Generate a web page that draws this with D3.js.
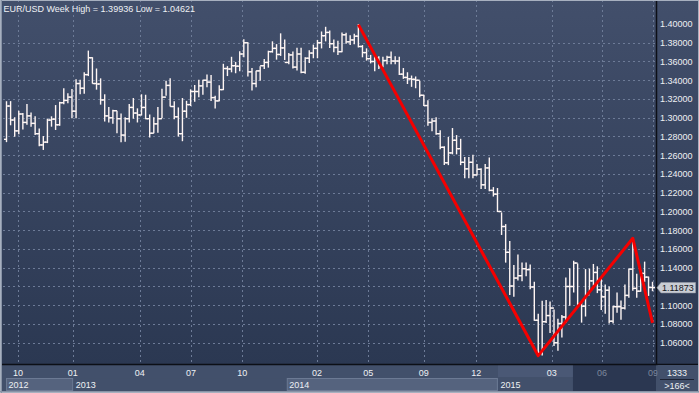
<!DOCTYPE html>
<html><head><meta charset="utf-8">
<script src="https://cdnjs.cloudflare.com/ajax/libs/d3/7.8.5/d3.min.js"></script>
<style>body{margin:0;background:#3a4864;overflow:hidden}svg{display:block}</style>
</head><body><svg id="c" width="699" height="393"></svg>
<script>
// Weekly EUR/USD bars, week 0 = 2012-09-10
const openP = [1.2770,1.3125,1.2976,1.2860,1.3040,1.2950,1.3020,1.2940,1.2830,1.2710,1.2740,1.2975,1.2985,1.2925,1.3160,1.3185,1.3220,1.3070,1.3365,1.3315,
1.3460,1.3640,1.3365,1.3360,1.3190,1.3020,1.3000,1.3075,1.2990,1.2815,1.2990,1.3110,1.3050,1.3030,1.3110,1.2990,1.2835,1.2935,1.2990,1.3220,
1.3345,1.3120,1.3010,1.2830,1.3070,1.3140,1.3280,1.3280,1.3340,1.3400,1.3380,1.3215,1.3180,1.3300,1.3525,1.3520,1.3555,1.3550,1.3680,1.3800,
1.3490,1.3365,1.3500,1.3555,1.3590,1.3705,1.3740,1.3675,1.3745,1.3590,1.3670,1.3540,1.3680,1.3485,1.3635,1.3690,1.3740,1.3800,1.3875,1.3910,
1.3790,1.3750,1.3705,1.3885,1.3810,1.3830,1.3870,1.3760,1.3695,1.3630,1.3600,1.3640,1.3545,1.3610,1.3645,1.3605,1.3605,1.3465,1.3430,1.3415,
1.3410,1.3400,1.3240,1.3130,1.2950,1.2965,1.2830,1.2685,1.2520,1.2625,1.2760,1.2670,1.2525,1.2455,1.2525,1.2390,1.2450,1.2285,1.2465,1.2225,
1.2185,1.2000,1.1840,1.1565,1.1205,1.1290,1.1315,1.1390,1.1380,1.1195,1.0840,1.0495,1.0825,1.0890,1.0970,1.0600,1.0805,1.0875,1.1200,1.1200,
1.1450,1.1015,1.0990,1.1110,1.1260,1.1350,1.1165,1.1090,1.1160,1.0830,1.0985,1.0985,1.0970,1.1105,1.1385,1.1180,1.1150,1.1340,1.1300,1.1190];
const highP = [1.3171,1.3172,1.3000,1.3070,1.3045,1.3140,1.3050,1.3010,1.2880,1.2800,1.2985,1.3010,1.3130,1.3165,1.3308,1.3255,1.3300,1.3405,1.3400,1.3480,
1.3711,1.3640,1.3520,1.3415,1.3245,1.3110,1.3080,1.3070,1.3040,1.3000,1.3140,1.3205,1.3095,1.3245,1.3240,1.3030,1.3000,1.3110,1.3305,1.3390,
1.3415,1.3170,1.3105,1.3205,1.3175,1.3298,1.3345,1.3400,1.3400,1.3455,1.3450,1.3230,1.3340,1.3570,1.3545,1.3645,1.3590,1.3705,1.3832,1.3800,
1.3525,1.3495,1.3545,1.3620,1.3710,1.3810,1.3780,1.3895,1.3830,1.3685,1.3700,1.3740,1.3740,1.3640,1.3715,1.3775,1.3825,1.3915,1.3965,1.3925,
1.3830,1.3815,1.3905,1.3900,1.3875,1.3890,1.39936,1.3770,1.3735,1.3665,1.3670,1.3650,1.3645,1.3655,1.3700,1.3650,1.3645,1.3525,1.3480,1.3445,
1.3435,1.3390,1.3240,1.3180,1.2990,1.3000,1.2860,1.2690,1.2790,1.2885,1.2810,1.2770,1.2575,1.2575,1.2600,1.2500,1.2455,1.2500,1.2570,1.2255,
1.2245,1.1985,1.1860,1.1680,1.1425,1.1535,1.1450,1.1450,1.1430,1.1245,1.0905,1.1043,1.1050,1.1035,1.0950,1.0850,1.0890,1.1290,1.1390,1.1470,
1.1440,1.1030,1.1380,1.1385,1.1435,1.1410,1.1280,1.1215,1.1195,1.0990,1.1130,1.1045,1.1215,1.1385,1.1714,1.1330,1.1370,1.1460,1.1300,1.1245];
const lowP = [1.2745,1.2925,1.2803,1.2830,1.2880,1.2930,1.2910,1.2820,1.2700,1.2662,1.2735,1.2910,1.2875,1.2920,1.3150,1.3160,1.3000,1.3000,1.3255,1.3260,
1.3450,1.3370,1.3305,1.3145,1.2965,1.2955,1.2940,1.2840,1.2745,1.2750,1.2955,1.2995,1.2955,1.3030,1.2990,1.2795,1.2840,1.2845,1.3000,1.3240,
1.3125,1.2990,1.2805,1.2755,1.3005,1.3130,1.3175,1.3225,1.3250,1.3330,1.3185,1.3105,1.3180,1.3300,1.3450,1.3490,1.3480,1.3500,1.3650,1.3445,
1.3295,1.3330,1.3400,1.3525,1.3540,1.3700,1.3625,1.3665,1.3620,1.3575,1.3530,1.3510,1.3480,1.3475,1.3590,1.3640,1.3640,1.3745,1.3820,1.3750,
1.3705,1.3675,1.3705,1.3795,1.3780,1.3790,1.3755,1.3650,1.3615,1.3585,1.3500,1.3525,1.3545,1.3575,1.3575,1.3575,1.3460,1.3420,1.3365,1.3335,
1.3320,1.3225,1.3130,1.2920,1.2860,1.2825,1.2670,1.2500,1.2500,1.2615,1.2615,1.2500,1.2360,1.2360,1.2360,1.2390,1.2245,1.2245,1.2220,1.2165,
1.2000,1.1755,1.1460,1.1115,1.1095,1.1270,1.1260,1.1315,1.1175,1.0840,1.04621,1.0470,1.0815,1.0710,1.0570,1.0520,1.0660,1.0815,1.1000,1.1140,
1.1000,1.0820,1.0885,1.1135,1.1215,1.1135,1.0955,1.0915,1.0810,1.0810,1.0925,1.0850,1.0960,1.1085,1.1160,1.1085,1.1150,1.1255,1.1105,1.1155];
const closeP = [1.3125,1.2976,1.2860,1.3040,1.2950,1.3020,1.2940,1.2830,1.2710,1.2740,1.2975,1.2985,1.2925,1.3160,1.3185,1.3220,1.3070,1.3365,1.3315,1.3460,
1.3640,1.3365,1.3360,1.3190,1.3020,1.3000,1.3075,1.2990,1.2815,1.2990,1.3110,1.3050,1.3030,1.3110,1.2990,1.2835,1.2935,1.2990,1.3220,1.3345,
1.3120,1.3010,1.2830,1.3070,1.3140,1.3280,1.3280,1.3340,1.3400,1.3380,1.3215,1.3180,1.3300,1.3525,1.3520,1.3555,1.3550,1.3680,1.3800,1.3490,
1.3365,1.3500,1.3555,1.3590,1.3705,1.3740,1.3675,1.3745,1.3590,1.3670,1.3540,1.3680,1.3485,1.3635,1.3690,1.3740,1.3800,1.3875,1.3910,1.3790,
1.3750,1.3705,1.3885,1.3810,1.3830,1.3870,1.3760,1.3695,1.3630,1.3600,1.3640,1.3545,1.3610,1.3645,1.3605,1.3605,1.3465,1.3430,1.3415,1.3410,
1.3400,1.3240,1.3130,1.2950,1.2965,1.2830,1.2685,1.2520,1.2625,1.2760,1.2670,1.2525,1.2455,1.2525,1.2390,1.2450,1.2285,1.2465,1.2225,1.2185,
1.2000,1.1840,1.1565,1.1205,1.1290,1.1315,1.1390,1.1380,1.1195,1.0840,1.0495,1.0825,1.0890,1.0970,1.0600,1.0805,1.0875,1.1200,1.1200,1.1450,
1.1015,1.0990,1.1110,1.1260,1.1350,1.1165,1.1090,1.1160,1.0830,1.0985,1.0985,1.0970,1.1105,1.1385,1.1180,1.1150,1.1340,1.1300,1.1190,1.11873];

// 1.12000 label is hidden behind the last-price tag in the reference
const priceTicks = [1.40,1.38,1.36,1.34,1.32,1.30,1.28,1.26,1.24,1.22,1.20,1.18,1.16,1.14,1.10,1.08,1.06];
const gridPrices = [1.38,1.36,1.34,1.32,1.30,1.28,1.26,1.24,1.22,1.20,1.18,1.16,1.14,1.12,1.10,1.08,1.06];
const monthLabels = ["10","01","04","07","10","02","05","09","12","03","06","09"];
const monthWeek  = [2.8,16.2,32.6,45.1,57.6,75.9,88.4,102,114.8,133.4,146.2,159.1];
const yearLabels = ["2012","2013","2014","2015"];
const yearStartWeek = [-0.12,16.3,68.5,120.1];
const yearEndWeek = 138.8;
const zigWeek  = [86,130,154,159];
const zigPrice = [1.39936,1.04621,1.1714,1.0812];
const lastPrice = 1.11873;
const title = "EUR/USD Week High = 1.39936 Low = 1.04621";

const svg = d3.select("#c");
const W = 699, H = 393, plotR = 656, plotB = 364;
const x = d3.scaleLinear().domain([0,129,159]).range([6.5,534.3,652.5]);
const y = d3.scaleLinear().domain([1.03733,1.4256]).range([plotB,0]);
const FONT = "'Liberation Sans',Arial,sans-serif";

const defs = svg.append("defs");
const g1 = defs.append("linearGradient").attr("id","bg").attr("x1",0).attr("x2",0).attr("y1",0).attr("y2",1);
g1.append("stop").attr("offset","0%").attr("stop-color","#424f6b");
g1.append("stop").attr("offset","100%").attr("stop-color","#2b3852");

svg.append("rect").attr("width",W).attr("height",plotB).attr("fill","url(#bg)");

// grid
const grid = svg.append("g").attr("stroke","#6d7b97").attr("stroke-width",1).attr("stroke-dasharray","2,3");
grid.selectAll("line.h").data(gridPrices).join("line")
  .attr("x1",3).attr("x2",plotR).attr("y1",d=>Math.round(y(d))+0.5).attr("y2",d=>Math.round(y(d))+0.5);
grid.selectAll("line.v").data(monthWeek).join("line")
  .attr("y1",0).attr("y2",plotB).attr("x1",d=>Math.round(x(d))+0.5).attr("x2",d=>Math.round(x(d))+0.5);

// bars
const idx = d3.range(closeP.length);
const bars = svg.append("g").attr("stroke","#fff6f4").attr("stroke-width",1.4);
bars.selectAll("line.b").data(idx).join("line")
  .attr("x1",i=>x(i)).attr("x2",i=>x(i)).attr("y1",i=>y(highP[i])-0.5).attr("y2",i=>y(lowP[i])+0.5);
bars.selectAll("line.o").data(idx).join("line")
  .attr("x1",i=>x(i)-2.5).attr("x2",i=>x(i)).attr("y1",i=>y(openP[i])).attr("y2",i=>y(openP[i]));
bars.selectAll("line.c").data(idx).join("line")
  .attr("x1",i=>x(i)).attr("x2",i=>x(i)+2.5).attr("y1",i=>y(closeP[i])).attr("y2",i=>y(closeP[i]));

// zigzag
svg.append("path").datum(d3.zip(zigWeek,zigPrice))
  .attr("d",d3.line().x(d=>x(d[0])).y(d=>y(d[1])))
  .attr("fill","none").attr("stroke","#f50000").attr("stroke-width",3).attr("stroke-linejoin","round");

// right axis
svg.append("line").attr("x1",plotR+0.5).attr("x2",plotR+0.5).attr("y1",0).attr("y2",H).attr("stroke","#0c0f16").attr("stroke-width",1.5);
const ra = svg.append("g").attr("font-family",FONT).attr("font-size","9px").attr("fill","#eef0f4");
ra.selectAll("text").data(priceTicks).join("text")
  .attr("x",660).attr("y",d=>y(d)+3.4).text(d=>d.toFixed(5));

// last price tag
const ly = y(lastPrice);
svg.append("path").attr("d",`M${plotR+1},${ly} L${661},${ly-5.2} L${695.5},${ly-5.2} L${695.5},${ly+5.2} L${661},${ly+5.2} Z`)
  .attr("fill","#c9cdd4").attr("stroke","#9aa0aa").attr("stroke-width",0.6);
svg.append("text").attr("x",662).attr("y",ly+3.3).attr("font-family",FONT)
  .attr("font-size","9px").attr("fill","#14161a").text(lastPrice.toFixed(5));

// bottom axis
svg.append("rect").attr("x",0).attr("y",plotB).attr("width",W).attr("height",H-plotB).attr("fill","#42506b");
svg.append("rect").attr("x",x(yearEndWeek)).attr("y",plotB+1).attr("width",plotR-x(yearEndWeek)).attr("height",H-plotB-3).attr("fill","#2b3751");
svg.append("rect").attr("x",x(yearStartWeek[3])).attr("y",plotB+1).attr("width",x(yearEndWeek)-x(yearStartWeek[3])).attr("height",12).attr("fill","#4a5875");
svg.append("line").attr("x1",0).attr("x2",W).attr("y1",plotB+0.5).attr("y2",plotB+0.5).attr("stroke","#0c0f16").attr("stroke-width",1.5);

const yb = svg.append("g");
yb.selectAll("rect").data(yearLabels).join("rect")
  .attr("x",(d,i)=>x(yearStartWeek[i])+0.5)
  .attr("y",378.5)
  .attr("width",(d,i)=>(i<3?x(yearStartWeek[i+1]):x(yearEndWeek))-x(yearStartWeek[i])-1)
  .attr("height",12)
  .attr("fill",(d,i)=>i%2===0?"#55637e":"#42506b")
  .attr("stroke",(d,i)=>i%2===0?"#6c7a94":"none");
yb.selectAll("text").data(yearLabels).join("text")
  .attr("x",(d,i)=>x(yearStartWeek[i])+2.5).attr("y",388)
  .attr("font-family",FONT).attr("font-size","9px").attr("fill","#eef0f4").text(d=>d);

svg.append("g").selectAll("text").data(monthLabels).join("text")
  .attr("x",(d,i)=>x(monthWeek[i])).attr("y",375.5).attr("text-anchor","middle")
  .attr("font-family",FONT).attr("font-size","9px")
  .attr("fill",(d,i)=>monthWeek[i]>yearEndWeek?"#7c879c":"#eef0f4").text(d=>d);

// bottom-right counter box
svg.append("rect").attr("x",plotR+1.5).attr("y",plotB+1).attr("width",W-plotR-2).attr("height",H-plotB-3).attr("fill","#42506b");
svg.append("line").attr("x1",660).attr("x2",694).attr("y1",379.5).attr("y2",379.5).attr("stroke","#1c2233");
svg.append("text").attr("x",677).attr("y",376).attr("text-anchor","middle").attr("font-family",FONT).attr("font-size","9px").attr("fill","#eef0f4").text("1333");
svg.append("text").attr("x",677).attr("y",389).attr("text-anchor","middle").attr("font-family",FONT).attr("font-size","9px").attr("fill","#eef0f4").text(">166<");

// title
svg.append("text").attr("x",3.5).attr("y",11.5).attr("font-family",FONT).attr("font-size","9px").attr("fill","#eef0f4").text(title);

// frame
svg.append("rect").attr("x",0.5).attr("y",0.5).attr("width",W-1).attr("height",H-1).attr("fill","none").attr("stroke","#a7b0bf").attr("stroke-width",1);
svg.append("line").attr("x1",1.5).attr("x2",1.5).attr("y1",0).attr("y2",H).attr("stroke","#8893a6");
svg.append("line").attr("x1",0).attr("x2",W).attr("y1",H-1.5).attr("y2",H-1.5).attr("stroke","#8893a6");
</script></body></html>
